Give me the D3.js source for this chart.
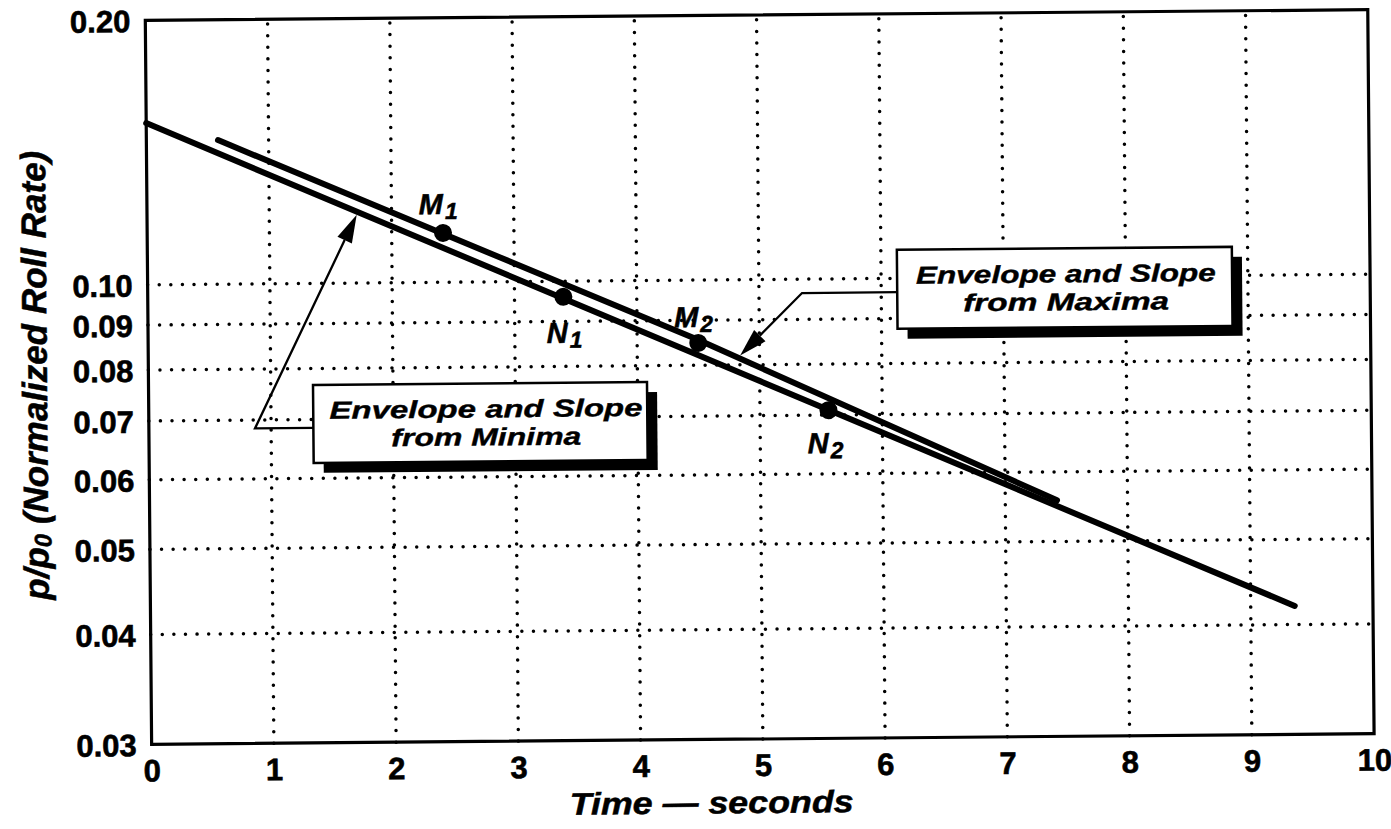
<!DOCTYPE html>
<html><head><meta charset="utf-8">
<script src="https://cdn.jsdelivr.net/npm/d3@7"></script>
<style>body{margin:0;background:#fff}</style>
</head><body>
<svg id="chart" width="1391" height="829"></svg>
<script>
// ---- data ----
const timeTicks = [0,1,2,3,4,5,6,7,8,9,10];
const rateTicks = [0.03,0.04,0.05,0.06,0.07,0.08,0.09,0.10,0.20];
const rateTickLabels = ["0.03","0.04","0.05","0.06","0.07","0.08","0.09","0.10","0.20"];
const rateGrid = [0.04,0.05,0.06,0.07,0.08,0.09,0.10];
const minimaTime = [0, 9.36];
const minimaRate = [0.1528, 0.0420];
const maximaTime = [0.586, 4.498, 7.423];
const maximaRate = [0.1459, 0.0855, 0.0557];
const pointNames = ["M","N","M","N"];
const pointSubs = ["1","1","2","2"];
const pointTime = [2.42, 3.40, 4.50, 5.56];
const pointRate = [0.1138, 0.0960, 0.0848, 0.0709];
const noteLines = [["Envelope and Slope","from Minima"],["Envelope and Slope","from Maxima"]];
const noteTargetTime = [1.726, 4.824];
const xTitle = "Time \u2014 seconds";

// ---- layout ----
const W=1391,H=829;
const m={left:148.5,right:1371,top:15,bottom:739};
const font="'Liberation Sans', Arial, Helvetica, sans-serif";
const x=d3.scaleLinear().domain([0,10]).range([m.left,m.right]);
const y=d3.scaleLog().domain([0.03,0.2]).range([m.bottom,m.top]);

const svg=d3.select('#chart');
svg.append('rect').attr('width',W).attr('height',H).attr('fill','#fff');
const g=svg.append('g').attr('transform','rotate(-0.5,759,383)');

// grid
const dots={stroke:'#000','stroke-width':3.5,'stroke-linecap':'round','stroke-dasharray':'0 11.6'};
const vg=g.append('g').selectAll('line').data(timeTicks.filter(t=>t>0&&t<10)).join('line')
 .attr('x1',d=>x(d)).attr('x2',d=>x(d)).attr('y1',m.bottom).attr('y2',m.top);
const hg=g.append('g').selectAll('line').data(rateGrid).join('line')
 .attr('x1',m.left).attr('x2',m.right).attr('y1',d=>y(d)).attr('y2',d=>y(d));
for(const k in dots){vg.attr(k,dots[k]);hg.attr(k,dots[k]);}

// axes
const xa=g.append('g').attr('transform',`translate(0,${m.bottom})`)
 .call(d3.axisBottom(x).tickValues(timeTicks).tickFormat(d3.format('d')).tickSize(0).tickPadding(15));
const ya=g.append('g').attr('transform',`translate(${m.left},0)`)
 .call(d3.axisLeft(y).tickValues(rateTicks).tickFormat((d,i)=>rateTickLabels[i]).tickSize(0).tickPadding(15));
[xa,ya].forEach(a=>{a.select('.domain').remove();
 a.selectAll('text').attr('font-family',font).attr('font-weight','bold').attr('font-size',31)
  .attr('fill','#000').attr('stroke','#000').attr('stroke-width',0.6);});
ya.selectAll('text').attr('dy','0.36em');

// frame
g.append('rect').attr('x',m.left).attr('y',m.top).attr('width',m.right-m.left).attr('height',m.bottom-m.top)
 .attr('fill','none').attr('stroke','#000').attr('stroke-width',3.2);

// lines
const line=d3.line().x(d=>x(d[0])).y(d=>y(d[1]));
const minima=minimaTime.map((t,i)=>[t,minimaRate[i]]);
const maxima=maximaTime.map((t,i)=>[t,maximaRate[i]]);
[minima,maxima].forEach(dat=>{
 g.append('path').attr('d',line(dat)).attr('fill','none').attr('stroke','#000')
  .attr('stroke-width',6).attr('stroke-linecap','round').attr('stroke-linejoin','round');
});

// points
const pts=pointTime.map((t,i)=>({t,v:pointRate[i],n:pointNames[i],s:pointSubs[i]}));
g.append('g').selectAll('circle').data(pts).join('circle')
 .attr('cx',d=>x(d.t)).attr('cy',d=>y(d.v)).attr('r',9).attr('fill','#000');
const labOff=[[-24,-19],[-17,46],[-24,-16],[-21,43]];
const lab=g.append('g').selectAll('text').data(pts).join('text')
 .attr('x',(d,i)=>x(d.t)+labOff[i][0]).attr('y',(d,i)=>y(d.v)+labOff[i][1])
 .attr('font-family',font).attr('font-weight','bold').attr('font-style','italic').attr('font-size',29)
 .attr('fill','#000').attr('stroke','#000').attr('stroke-width',0.5);
lab.append('tspan').text(d=>d.n);
lab.append('tspan').attr('font-size',23).attr('dy',5).attr('dx',2).text(d=>d.s);

// annotations
function interpLog(dat,t){
 for(let i=0;i<dat.length-1;i++){const a=dat[i],b=dat[i+1];
  if(t>=a[0]&&t<=b[0]){const f=(t-a[0])/(b[0]-a[0]);return Math.pow(10,Math.log10(a[1])+f*(Math.log10(b[1])-Math.log10(a[1])));}}
 return dat[dat.length-1][1];
}
const boxes=[
 {x:313,y:381,w:334,h:78,knee:254.6,ky:424,lines:noteLines[0],tx:485.8,tl:[313,190],tgt:minima,tt:noteTargetTime[0]},
 {x:898,y:251,w:335,h:79,knee:802.8,ky:293.4,lines:noteLines[1],tx:1066.8,tl:[300,206],tgt:maxima,tt:noteTargetTime[1]}
];
boxes.forEach(bx=>{
 const px=x(bx.tt), py=y(interpLog(bx.tgt,bx.tt));
 let dx=px-bx.knee, dy=py-bx.ky; const L=Math.hypot(dx,dy); const ux=dx/L, uy=dy/L;
 const tipX=px-ux*3, tipY=py-uy*3;
 const al=28, aw=8;
 const bxp=tipX-ux*al, byp=tipY-uy*al;
 g.append('path').attr('d',`M${bx.x},${bx.ky}H${bx.knee}L${bxp},${byp}`)
  .attr('fill','none').attr('stroke','#000').attr('stroke-width',2.3);
 g.append('path').attr('d',`M${tipX},${tipY}L${bxp-uy*aw},${byp+ux*aw}L${bxp+uy*aw},${byp-ux*aw}Z`).attr('fill','#000');
 g.append('rect').attr('x',bx.x+10).attr('y',bx.y+10).attr('width',bx.w).attr('height',bx.h).attr('fill','#000');
 g.append('rect').attr('x',bx.x).attr('y',bx.y).attr('width',bx.w).attr('height',bx.h)
  .attr('fill','#fff').attr('stroke','#000').attr('stroke-width',2.5);
 bx.lines.forEach((s,i)=>{
  g.append('text').attr('x',bx.tx-bx.tl[i]/2).attr('y',bx.y+34+i*28).text(s)
   .attr('textLength',bx.tl[i]).attr('lengthAdjust','spacingAndGlyphs')
   .attr('font-family',font).attr('font-weight','bold').attr('font-style','italic').attr('font-size',24.5)
   .attr('fill','#000').attr('stroke','#000').attr('stroke-width',0.4);
 });
});

// axis titles
g.append('text').attr('x',708-142).attr('y',813).attr('textLength',284).attr('lengthAdjust','spacingAndGlyphs').text(xTitle)
 .attr('font-family',font).attr('font-weight','bold').attr('font-style','italic').attr('font-size',31)
 .attr('fill','#000').attr('stroke','#000').attr('stroke-width',0.5);
const yt=g.append('text').attr('transform','translate(47,369) rotate(-90)').attr('text-anchor','middle')
 .attr('font-family',font).attr('font-weight','bold').attr('font-style','italic').attr('font-size',35)
 .attr('fill','#000').attr('stroke','#000').attr('stroke-width',0.5);
yt.append('tspan').text('p/p');
yt.append('tspan').attr('font-size',24).attr('dy',3).text('0');
yt.append('tspan').attr('dy',-3).text(' (Normalized Roll Rate)');
</script>
</body></html>
